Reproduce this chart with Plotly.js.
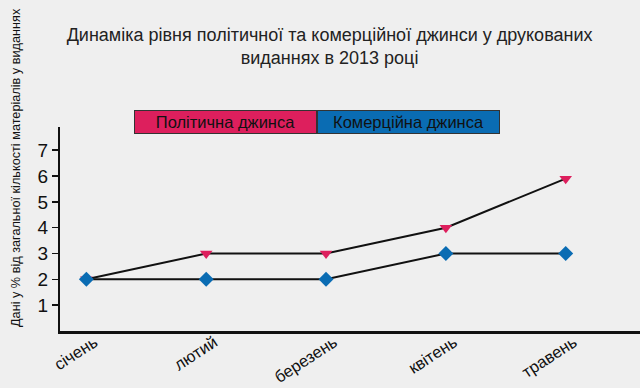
<!DOCTYPE html>
<html><head><meta charset="utf-8">
<script src="https://cdn.plot.ly/plotly-3.0.1.min.js"></script>
<style>body{margin:0;background:#efefef}#c{width:640px;height:388px}</style>
</head><body><div id="c"></div>
<script>
const months = ['січень','лютий','березень','квітень','травень'];
const political = [2, 3, 3, 4, 5.9];
const commercial = [2, 2, 2, 3, 3];
const seriesNames = ['Політична джинса','Комерційна джинса'];
const yTicks = [1,2,3,4,5,6,7];
const titleText = 'Динаміка рівня політичної та комерційної джинси у друкованих<br>виданнях в 2013 році';
const yTitle = 'Дані у % від загальної кількості матеріалів у виданнях';

const F = '"Liberation Sans", Arial, sans-serif';
const red = '#dd1f5d', blue = '#0a6cb3';

const traces = [
  {x: months, y: political, name: seriesNames[0], type:'scatter', mode:'lines+markers',
   line:{color:'#111', width:2}, marker:{symbol:'triangle-down', size:11, color:red}},
  {x: months, y: commercial, name: seriesNames[1], type:'scatter', mode:'lines+markers',
   line:{color:'#111', width:2}, marker:{symbol:'diamond', size:11.5, color:blue}}
];

const layout = {
  width:640, height:388,
  paper_bgcolor:'#efefef', plot_bgcolor:'#efefef',
  margin:{l:60, r:0, t:127, b:57},
  showlegend:false,
  font:{family:F, color:'#111'},
  title:{text:titleText, font:{family:F, size:18, color:'#222'}, x:0.515, xanchor:'center', y:0.895, yanchor:'middle', yref:'container'},
  xaxis:{type:'category', range:[-0.22, 4.62], showline:true, linecolor:'#111', linewidth:2.5,
         showgrid:false, zeroline:false, ticks:'', tickangle:-33, ticklabelstandoff:-7, ticklabelshift:8,
         tickfont:{family:F, size:16.5, color:'#111'}},
  yaxis:{range:[0, 7.9], tickvals:yTicks, showline:true, linecolor:'#111', linewidth:2,
         showgrid:false, zeroline:false, ticks:'outside', ticklen:6, tickwidth:1.5, tickcolor:'#111',
         tickfont:{family:F, size:19, color:'#111'}},
  annotations:[
    {text:yTitle, xref:'paper', yref:'paper', x:(16-60)/580, y:(331-168)/204, showarrow:false,
     textangle:-90, xanchor:'center', yanchor:'middle', font:{family:F, size:12.7, color:'#111'}},
    {text:seriesNames[0], xref:'paper', yref:'paper', x:0.285, y:1.0245, xanchor:'center', yanchor:'middle', showarrow:false,
     width:181, height:22, bgcolor:red, bordercolor:'#333', borderwidth:1, borderpad:0,
     font:{family:F, size:16.5, color:'#111'}, align:'center'},
    {text:seriesNames[1], xref:'paper', yref:'paper', x:0.6, y:1.0245, xanchor:'center', yanchor:'middle', showarrow:false,
     width:181, height:22, bgcolor:blue, bordercolor:'#333', borderwidth:1, borderpad:0,
     font:{family:F, size:16.5, color:'#111'}, align:'center'}
  ]
};
Plotly.newPlot('c', traces, layout, {displayModeBar:false, staticPlot:true});
</script></body></html>
